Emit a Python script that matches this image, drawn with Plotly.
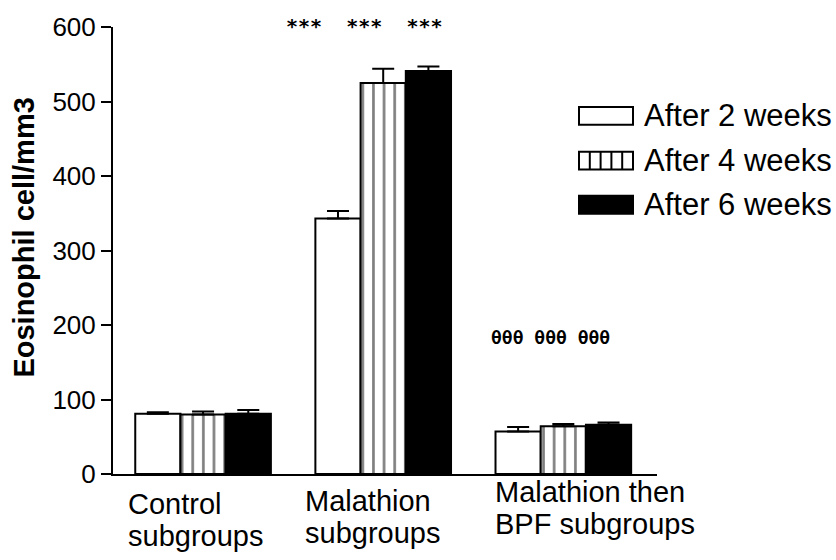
import plotly.graph_objects as go

# Eosinophil counts (cells/mm3) per subgroup and exposure period
categories = ["Control subgroups", "Malathion subgroups", "Malathion then BPF subgroups"]
category_lines = [["Control", "subgroups"], ["Malathion", "subgroups"], ["Malathion then", "BPF subgroups"]]
series_names = ["After 2 weeks", "After 4 weeks", "After 6 weeks"]
week2 = [81, 343, 57]
week4 = [80, 525, 64]
week6 = [81, 541, 66]
week2_err = [2, 10, 6]
week4_err = [4, 19, 3]
week6_err = [5, 6, 3]
y_ticks = [0, 100, 200, 300, 400, 500, 600]
star_text = "***  ***  ***"
theta_text = "θθθ θθθ θθθ"

W, H = 836, 560
L, R, T, B = 113, 179, 24, 86
PW, PH = W - L - R, H - T - B


def px_x(px):
    return (px - L) / PW


def px_y(py):
    return (H - B - py) / PH


FONT = "Arial, Liberation Sans, sans-serif"
MONO = "DejaVu Sans Mono, monospace"

styles = [
    dict(color="white"),
    dict(color="white", pattern=dict(shape="|", size=10.63, solidity=0.25,
                                      fgcolor="black", bgcolor="white")),
    dict(color="black"),
]

fig = go.Figure()
for name, vals, errs, st in zip(series_names, [week2, week4, week6],
                                [week2_err, week4_err, week6_err], styles):
    fig.add_trace(go.Bar(
        x=categories, y=vals, name=name,
        marker=dict(line=dict(color="black", width=2), **st),
        error_y=dict(type="data", symmetric=False, array=errs,
                     arrayminus=[0] * len(errs), color="black",
                     thickness=2, width=11),
        showlegend=False,
    ))

annotations = []

# category labels, left-aligned lines below the axis
label_left = [-77, -80, -70]
label_centers = [[504, 536], [501, 533], [492, 524]]
for cat, lines, dx, ys in zip(categories, category_lines, label_left, label_centers):
    for line, yc in zip(lines, ys):
        annotations.append(dict(
            x=cat, xref="x", y=px_y(yc), yref="paper", text=line,
            xanchor="left", yanchor="middle", xshift=dx, showarrow=False,
            font=dict(family=FONT, size=29, color="black")))

# significance marks
annotations.append(dict(
    x=categories[1], xref="x", y=px_y(22.5), yref="paper", text="<b>" + star_text + "</b>",
    xanchor="center", yanchor="middle", xshift=-19, showarrow=False,
    font=dict(family=MONO, size=20, color="black")))
annotations.append(dict(
    x=categories[2], xref="x", y=px_y(337), yref="paper", text="<b>" + theta_text + "</b>",
    xanchor="center", yanchor="middle", xshift=-13, showarrow=False,
    font=dict(family=MONO, size=18, color="black")))

# y-axis title
annotations.append(dict(
    x=px_x(24), xref="paper", y=px_y(236), yref="paper",
    text="<b>Eosinophil cell/mm3</b>", textangle=-90, showarrow=False,
    xanchor="center", yanchor="middle",
    font=dict(family=FONT, size=29, color="black")))

# legend drawn as swatches with labels
shapes = []
sw_x0, sw_x1 = 579, 633
legend_rows = [113.5, 158.5, 203]
for name, st, yc in zip(series_names, styles, legend_rows):
    y0, y1 = yc - 9, yc + 9
    fill = st["color"]
    shapes.append(dict(type="rect", xref="paper", yref="paper",
                       x0=px_x(sw_x0), x1=px_x(sw_x1), y0=px_y(y1), y1=px_y(y0),
                       fillcolor=fill, line=dict(color="black", width=2)))
    if "pattern" in st:
        n = 5
        step = (sw_x1 - sw_x0) / n
        for k in range(1, n):
            xx = sw_x0 + k * step
            shapes.append(dict(type="line", xref="paper", yref="paper",
                               x0=px_x(xx), x1=px_x(xx), y0=px_y(y1), y1=px_y(y0),
                               line=dict(color="black", width=2)))
    annotations.append(dict(
        x=px_x(642), xref="paper", y=px_y(yc), yref="paper", text=name,
        xanchor="left", yanchor="middle", showarrow=False,
        font=dict(family=FONT, size=31, color="black")))

fig.update_layout(
    width=W, height=H,
    margin=dict(l=L, r=R, t=T, b=B, pad=0),
    paper_bgcolor="white", plot_bgcolor="white",
    barmode="group", bargap=0.247, bargroupgap=0,
    font=dict(family=FONT, color="black"),
    annotations=annotations, shapes=shapes,
    xaxis=dict(range=[-0.5, 2.52], showticklabels=False, ticks="",
               showline=True, linecolor="black", linewidth=2,
               showgrid=False, zeroline=False, fixedrange=True),
    yaxis=dict(range=[0, 600], tickvals=y_ticks, ticks="outside", ticklen=10,
               tickwidth=2, tickcolor="black", showline=True, linecolor="black",
               linewidth=2, showgrid=False, zeroline=False,
               tickfont=dict(family=FONT, size=26, color="black"),
               fixedrange=True),
)

fig.write_html("out.html")
